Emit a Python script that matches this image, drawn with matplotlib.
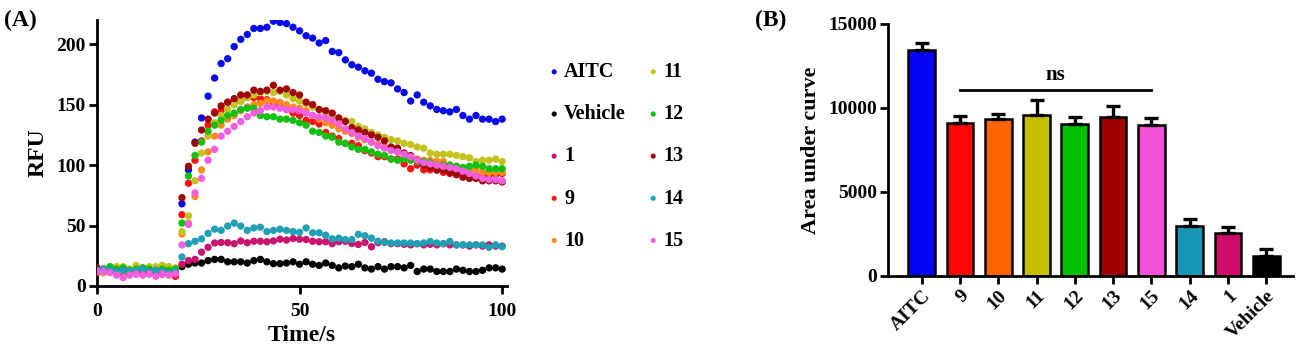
import numpy as np
import matplotlib
matplotlib.use("Agg")
import matplotlib.pyplot as plt

plt.rcParams['font.family'] = ['Liberation Serif', 'DejaVu Serif']
plt.rcParams['font.weight'] = 'bold'

# ---------------- data: panel A (RFU time course) ----------------
time_s = np.linspace(0, 100, 63)

aitc = [14, 13, 15, 13, 14, 12, 14, 13, 13, 12, 13, 12, 10,
        68, 96, 119, 139, 157, 172, 184, 188, 198, 204, 208, 213, 213, 214, 219,
        218, 217, 214, 211, 207, 205, 201, 203, 194, 193,
        187, 183, 181, 178, 176, 171, 169, 168, 163, 160,
        153, 158, 152, 149, 146, 145, 144, 146, 141, 138,
        141, 138, 138, 136, 138]
vehicle = [12, 14, 13, 12, 13, 11, 13, 12, 12, 13, 12, 11, 13,
           16, 18, 19, 19, 21, 22, 22, 20, 20, 20,
           19, 21, 22, 20, 18.5, 18.5, 19, 20, 18, 20,
           18, 17, 19, 17, 15, 16.5, 16, 18, 15, 14,
           16, 14, 16, 16, 15, 17, 12, 14, 14, 12,
           12, 12, 14, 13, 12, 12, 13, 15, 15, 14]
c1 = [12, 11, 12, 11, 10, 11, 10, 11, 10, 11, 10, 11, 10,
      18, 21, 22, 28, 32, 35.6, 36, 35.8, 35, 37.3,
      35.8, 37, 37, 36.6, 37.3, 38.7, 38, 39.3, 38.7, 38.4,
      37, 36.6, 36.6, 35, 36.6, 37, 35.2, 34.4, 36, 32.4,
      35.8, 36.6, 35, 35, 34.5, 34, 35, 34, 34.5, 34,
      35, 34, 34, 34, 33, 34, 33, 34, 33, 33]
c9 = [11, 12, 12, 11, 11, 12, 11, 11, 12, 11, 10, 11, 8,
      59, 85, 104, 120, 133, 144, 145, 152, 152, 153,
      156, 156, 155, 154, 151, 149, 146, 143, 141, 137,
      136, 134, 127, 124, 122, 118, 118, 116,
      112, 110, 107, 107, 105, 105, 101, 97, 100, 96,
      96, 96, 94, 93, 94, 94, 92, 91, 91, 92,
      92, 93]
c10 = [13, 12, 13, 11, 12, 12, 13, 12, 12, 11, 12, 12, 13,
       43, 52, 74, 96, 111, 124, 133, 138, 141, 145, 148, 150, 151, 153, 153, 152, 150, 148,
       147, 145, 141, 138, 135, 133, 130, 128, 126, 123,
       121, 119, 117, 115, 113, 111, 108, 107, 105, 104,
       104, 103, 103, 100, 99, 98, 96, 96, 94, 94,
       94, 94]
c11 = [12, 11, 15, 16, 16, 14, 17, 15, 16, 16, 17, 16, 15,
       45, 58, 87, 110, 124, 135, 141, 146, 150, 153,
       156, 158, 160, 161, 160, 161, 158, 155, 153, 151,
       148, 146, 143, 141, 138, 137, 136, 132, 130, 127,
       125, 123, 121, 120, 118, 117, 115, 114, 110, 109,
       109, 109, 108, 107, 106, 103, 104, 104, 105, 103]
c12 = [14, 13, 16, 14, 15, 13, 14, 15, 14, 13, 14, 13, 14,
       52, 91, 108, 119, 128, 133, 137, 141, 143, 146, 147, 147, 141, 140, 140, 138, 138, 137,
       135, 133, 128, 127, 124, 123, 119, 118, 115, 113,
       113, 111, 109, 108, 105, 104, 105, 104, 103, 103,
       102, 100, 100, 100, 99, 98, 99, 100, 99, 97,
       97, 97]
c13 = [15, 13, 12, 12, 13, 11, 12, 11, 12, 11, 12, 11, 11,
       73, 99, 118, 129, 138, 143, 149, 152, 155, 158, 158, 162, 161, 162, 166, 162,
       163, 160, 158, 152, 150, 146, 145, 143, 139, 136, 131, 129,
       127, 125, 123, 120, 115, 114, 110, 108, 104, 100, 98, 96, 96, 94, 92, 90,
       89, 89, 87, 87, 87, 86]
c14 = [13, 14, 13, 12, 13, 12, 13, 14, 12, 13, 12, 11, 12,
       24, 35, 37, 39, 43.5, 47, 46, 49.6, 52, 49.6,
       46, 48, 48.6, 45, 46, 47, 46, 45, 44.4, 48,
       44, 44, 42, 39, 39.5, 38.4, 38.4, 42.7, 41.6, 39.6,
       37, 36, 35.6, 35.6, 35.6, 35.6, 35, 35.6, 36.8, 35.6,
       35, 36.8, 34, 34, 34, 34, 34, 32, 34, 32.5]
c15 = [12, 12, 11, 9, 7, 9, 10, 9, 10, 8, 10, 9, 10,
       34, 51, 77, 89, 104, 113, 124, 128, 132, 136,
       140, 143, 145, 148, 148, 147, 146, 146, 145, 143,
       141, 140, 139, 137, 134, 130, 127, 124, 122, 119,
       116, 114, 112, 111, 109, 107, 104, 102, 101, 100,
       99, 98, 97, 95, 93, 91, 89, 88, 88, 87]

series_names = ['AITC', 'Vehicle', '1', '9', '10', '11', '12', '13', '14', '15']
series_vals = [aitc, vehicle, c1, c9, c10, c11, c12, c13, c14, c15]
series_cols = ['#0a0ae6', '#000000', '#c8146e', '#ff1010', '#ff8a1c',
               '#c4c21e', '#12c012', '#a00808', '#1fa0b4', '#f25ee0']

# ---------------- data: panel B (AUC bars) ----------------
bar_labels = ['AITC', '9', '10', '11', '12', '13', '15', '14', '1', 'Vehicle']
bar_means = [13430, 9100, 9360, 9600, 9040, 9440, 8980, 3000, 2540, 1190]
bar_errs = [440, 440, 300, 850, 420, 690, 420, 420, 400, 440]
bar_cols = ['#0505f5', '#ff0505', '#ff6505', '#c4c000', '#00c000',
            '#a00000', '#f550d8', '#1598b5', '#d00a6a', '#000000']
ns_from, ns_to, ns_level = 1, 6, 11100

# ---------------- figure ----------------
fig = plt.figure(figsize=(13.0, 3.51), dpi=100)

axA = fig.add_axes([97/1300, 65/351, 410/1300, 266/351])
for name, vals, col in zip(series_names, series_vals, series_cols):
    axA.scatter(time_s, vals, s=28, color=col, edgecolors='none', label=name, zorder=3)

axA.set_xlim(0, 101.2)
axA.set_ylim(0, 220)
axA.set_xticks([0, 50, 100])
axA.set_yticks([0, 50, 100, 150, 200])
for s in ['top', 'right']:
    axA.spines[s].set_visible(False)
for s in ['left', 'bottom']:
    axA.spines[s].set_linewidth(2.0)
axA.tick_params(axis='both', width=2.0, length=6, labelsize=14, pad=2)
axA.tick_params(axis='x', pad=6)
for lab in axA.get_xticklabels() + axA.get_yticklabels():
    lab.set_fontweight('bold')
axA.set_xlabel('Time/s', fontsize=17, fontweight='bold', labelpad=4)
axA.set_ylabel('RFU', fontsize=17, fontweight='bold', labelpad=6)

leg = axA.legend(ncol=2, loc='upper left', bbox_to_anchor=(527/1300, 1 - 44/351),
                 bbox_transform=fig.transFigure, frameon=False,
                 prop={'family': 'Liberation Serif', 'weight': 'bold', 'size': 14.5},
                 markerscale=0.7, handletextpad=0.05, handlelength=0.9,
                 labelspacing=1.1, columnspacing=0.9)

fig.text(4/1300, 1 - 20/351, '(A)', fontsize=17, fontweight='bold', va='center', ha='left')
fig.text(755/1300, 1 - 20/351, '(B)', fontsize=17, fontweight='bold', va='center', ha='left')

# ---------------- panel B ----------------
axB = fig.add_axes([888/1300, 75/351, 405/1300, 252/351])
xpos = np.arange(len(bar_labels))
axB.bar(xpos, bar_means, width=0.7, color=bar_cols, edgecolor='black', linewidth=1.8, zorder=2)
axB.errorbar(xpos, bar_means, yerr=[np.zeros(len(bar_errs)), bar_errs], fmt='none',
             ecolor='black', elinewidth=2.4, capsize=5, capthick=2.4, zorder=3)
axB.plot([ns_from, ns_to], [ns_level, ns_level], color='black', lw=2.0)
axB.text((ns_from + ns_to) / 2, ns_level + 250, 'ns', ha='center', va='bottom',
         fontsize=15, fontweight='bold')

axB.set_xlim(-0.88, 9.7)
axB.set_ylim(0, 15000)
axB.set_yticks([0, 5000, 10000, 15000])
axB.set_xticks(xpos)
axB.set_xticklabels(bar_labels, rotation=45, ha='right', rotation_mode='anchor',
                    fontsize=15, fontweight='bold')
for s in ['top', 'right']:
    axB.spines[s].set_visible(False)
for s in ['left', 'bottom']:
    axB.spines[s].set_linewidth(2.0)
axB.tick_params(axis='both', width=2.0, length=6, labelsize=14, pad=2)
axB.tick_params(axis='x', pad=2)
for lab in axB.get_yticklabels():
    lab.set_fontweight('bold')
axB.set_ylabel('Area under curve', fontsize=16, fontweight='bold', labelpad=5)

fig.savefig('out.png', dpi=100)
